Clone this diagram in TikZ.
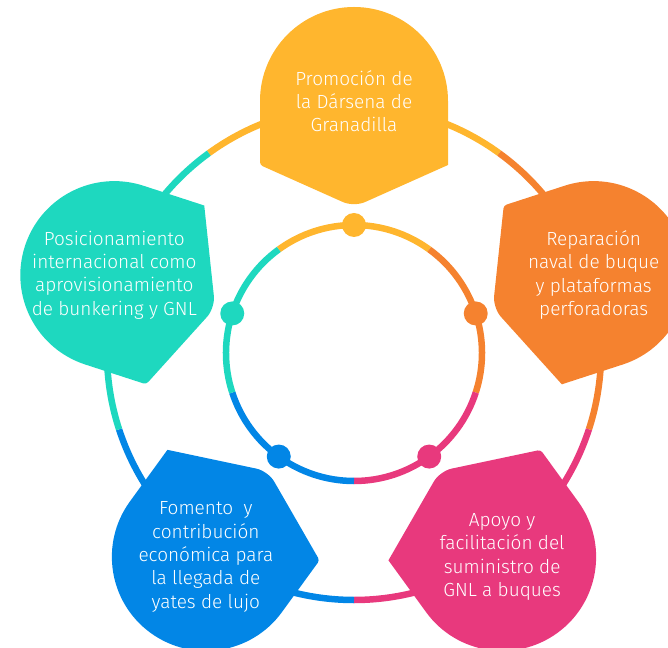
\documentclass[tikz,border=0pt]{standalone}
\usepackage{fontspec}
\setmainfont{Fira Sans}[UprightFont=* Light]

\definecolor{promocol}{HTML}{FFB62E}
\definecolor{reparcol}{HTML}{F5822F}
\definecolor{apoyocol}{HTML}{E8397D}
\definecolor{fomentocol}{HTML}{0286E6}
\definecolor{posiccol}{HTML}{1ED8BF}

\tikzset{
	ring/.style={line width=6.5pt, draw=#1},
	hub/.style={circle, fill=#1, minimum size=24pt, inner sep=0pt},
	blurb/.style={text=white, align=center, font=\fontsize{19}{23.3}\selectfont}
}

\begin{document}
\begin{tikzpicture}[x=1pt,y=1pt]
	\clip (-354,-294) rectangle (314,353);
	\useasboundingbox (-354,-294) rectangle (314,353);

	% outer ring
	\draw[ring=promocol] (54:247pt) arc[start angle=54, end angle=126, radius=247pt];
	\draw[ring=reparcol] (-18:247pt) arc[start angle=-18, end angle=54, radius=247pt];
	\draw[ring=apoyocol] (-90:247pt) arc[start angle=-90, end angle=-18, radius=247pt];
	\draw[ring=fomentocol] (-162:247pt) arc[start angle=-162, end angle=-90, radius=247pt];
	\draw[ring=posiccol] (126:247pt) arc[start angle=126, end angle=198, radius=247pt];

	% petals
	\fill[promocol, rotate=0] (-94,220) -- (-94,252) arc[start angle=180, end angle=0, radius=94pt] -- (94,188) [rounded corners=12pt] -- (0,146) [rounded corners=3pt] -- (-94,188) [rounded corners=12pt] -- cycle;
	\fill[reparcol, rotate=-72] (-94,220) -- (-94,252) arc[start angle=180, end angle=0, radius=94pt] -- (94,188) [rounded corners=12pt] -- (0,146) [rounded corners=3pt] -- (-94,188) [rounded corners=12pt] -- cycle;
	\fill[apoyocol, rotate=-144] (-94,220) -- (-94,252) arc[start angle=180, end angle=0, radius=94pt] -- (94,188) [rounded corners=12pt] -- (0,146) [rounded corners=3pt] -- (-94,188) [rounded corners=12pt] -- cycle;
	\fill[fomentocol, rotate=144] (-94,220) -- (-94,252) arc[start angle=180, end angle=0, radius=94pt] -- (94,188) [rounded corners=12pt] -- (0,146) [rounded corners=3pt] -- (-94,188) [rounded corners=12pt] -- cycle;
	\fill[posiccol, rotate=72] (-94,220) -- (-94,252) arc[start angle=180, end angle=0, radius=94pt] -- (94,188) [rounded corners=12pt] -- (0,146) [rounded corners=3pt] -- (-94,188) [rounded corners=12pt] -- cycle;

	% inner ring
	\draw[ring=promocol] (54:128pt) arc[start angle=54, end angle=126, radius=128pt];
	\draw[ring=reparcol] (-18:128pt) arc[start angle=-18, end angle=54, radius=128pt];
	\draw[ring=apoyocol] (-90:128pt) arc[start angle=-90, end angle=-18, radius=128pt];
	\draw[ring=fomentocol] (-162:128pt) arc[start angle=-162, end angle=-90, radius=128pt];
	\draw[ring=posiccol] (126:128pt) arc[start angle=126, end angle=198, radius=128pt];

	\node[hub=promocol] (hubpromo) at (90:128pt) {};
	\node[hub=reparcol] (hubrepar) at (18:128pt) {};
	\node[hub=apoyocol] (hubapoyo) at (-54:128pt) {};
	\node[hub=fomentocol] (hubfomento) at (-126:128pt) {};
	\node[hub=posiccol] (hubposic) at (162:128pt) {};

	% texts
	\node[blurb] (promo) at (90:252pt) {Promoción de\\la Dársena de\\Granadilla};
	\node[blurb] (repar) at (18:252pt) {Reparación\\naval de buque\\y plataformas\\perforadoras};
	\node[blurb] (apoyo) at (-54:252pt) {Apoyo y\\facilitación del\\suministro de\\GNL a buques};
	\node[blurb] (fomento) at (-126:252pt) {Fomento\ \ y\\contribución\\económica para\\la llegada de\\yates de lujo};
	\node[blurb] (posic) at (162:252pt) {Posicionamiento\\internacional como\\aprovisionamiento\\de bunkering y GNL};

\end{tikzpicture}
\end{document}
